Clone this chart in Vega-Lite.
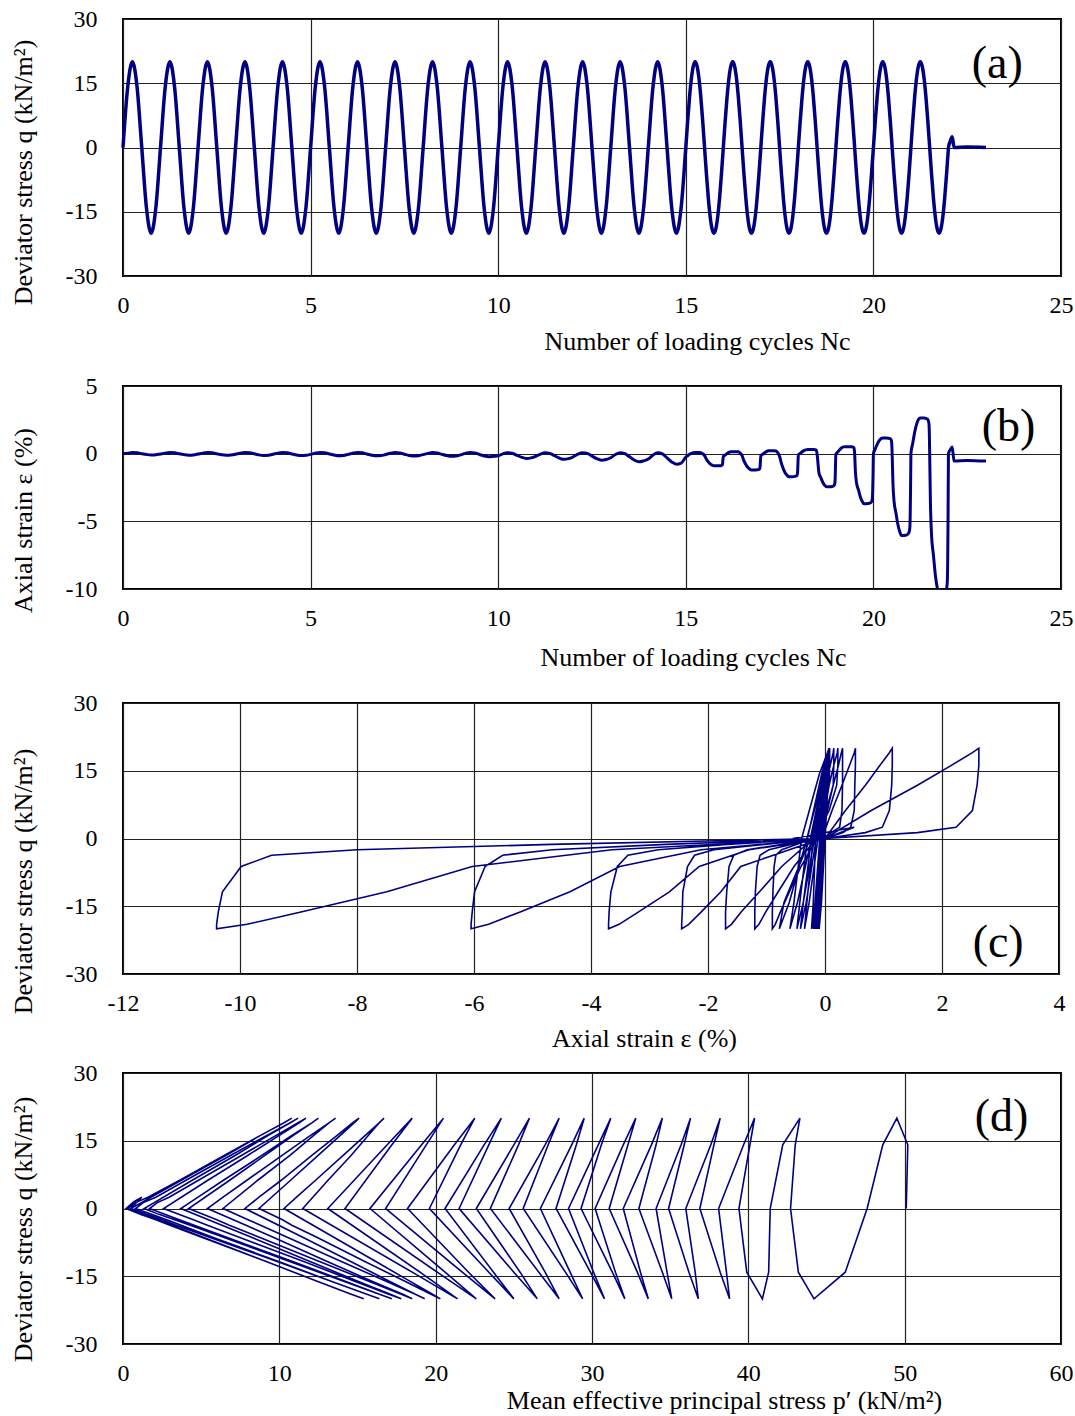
{
"$schema": "https://vega.github.io/schema/vega-lite/v6.json",
"background": "white",
"padding": {"left": 8, "top": 6, "right": 2, "bottom": 2},
"config": {
  "font": "Liberation Serif",
  "view": {"stroke": "black", "strokeWidth": 2},
  "axis": {"grid": true, "gridColor": "#222222", "gridWidth": 1.2, "gridOpacity": 1, "domain": false, "ticks": false,
    "labelFont": "Liberation Serif", "labelFontSize": 24, "labelColor": "black", "labelExpr": "'' + datum.value",
    "titleFont": "Liberation Serif", "titleFontSize": 26, "titleFontWeight": "normal", "titleColor": "black"},
  "axisX": {"labelPadding": 17, "labelFlush": false, "titleBaseline": "alphabetic", "titleAlign": "center"},
  "axisY": {"labelPadding": 26, "labelFlush": false, "titleBaseline": "middle", "titleAlign": "center"}
},
"datasets": {"d": [
{"t":0,"q":0,"e":0,"p":50.1},{"t":0.125,"q":14.1,"e":0.04,"p":50.2},{"t":0.25,"q":20,"e":0.08,"p":49.5},{"t":0.375,"q":14.1,"e":0.06,"p":48.6},{"t":0.5,"q":0,"e":0,"p":47.6},{"t":0.625,"q":-14.1,"e":-0.06,"p":46.2},{"t":0.75,"q":-20,"e":-0.1,"p":44.2},{"t":0.875,"q":-14.1,"e":-0.08,"p":43.2},
{"t":1,"q":0,"e":-0.02,"p":42.7},{"t":1.125,"q":14.1,"e":0.04,"p":43},{"t":1.25,"q":20,"e":0.08,"p":43.3},{"t":1.375,"q":14.1,"e":0.06,"p":42.2},{"t":1.5,"q":0,"e":-0.01,"p":41.4},{"t":1.625,"q":-14.1,"e":-0.07,"p":41.3},{"t":1.75,"q":-20,"e":-0.11,"p":40.9},{"t":1.875,"q":-14.1,"e":-0.09,"p":39.9},
{"t":2,"q":0,"e":-0.03,"p":39.4},{"t":2.125,"q":14.1,"e":0.04,"p":40.1},{"t":2.25,"q":20,"e":0.08,"p":40.4},{"t":2.375,"q":14.1,"e":0.06,"p":39.7},{"t":2.5,"q":0,"e":-0.01,"p":38.1},{"t":2.625,"q":-14.1,"e":-0.08,"p":38.6},{"t":2.75,"q":-20,"e":-0.12,"p":38.8},{"t":2.875,"q":-14.1,"e":-0.1,"p":38.2},
{"t":3,"q":0,"e":-0.04,"p":36.9},{"t":3.125,"q":14.1,"e":0.04,"p":37.8},{"t":3.25,"q":20,"e":0.08,"p":38.2},{"t":3.375,"q":14.1,"e":0.06,"p":37.6},{"t":3.5,"q":0,"e":-0.01,"p":36},{"t":3.625,"q":-14.1,"e":-0.09,"p":36.6},{"t":3.75,"q":-20,"e":-0.13,"p":36.8},{"t":3.875,"q":-14.1,"e":-0.11,"p":36.2},
{"t":4,"q":0,"e":-0.04,"p":34.9},{"t":4.125,"q":14.1,"e":0.04,"p":35.9},{"t":4.25,"q":20,"e":0.08,"p":36.3},{"t":4.375,"q":14.1,"e":0.06,"p":35.7},{"t":4.5,"q":0,"e":-0.02,"p":34.1},{"t":4.625,"q":-14.1,"e":-0.1,"p":34.8},{"t":4.75,"q":-20,"e":-0.14,"p":35.1},{"t":4.875,"q":-14.1,"e":-0.12,"p":34.5},
{"t":5,"q":0,"e":-0.05,"p":33},{"t":5.125,"q":14.1,"e":0.03,"p":34.1},{"t":5.25,"q":20,"e":0.08,"p":34.5},{"t":5.375,"q":14.1,"e":0.06,"p":33.8},{"t":5.5,"q":0,"e":-0.02,"p":32},{"t":5.625,"q":-14.1,"e":-0.1,"p":33.1},{"t":5.75,"q":-20,"e":-0.15,"p":33.6},{"t":5.875,"q":-14.1,"e":-0.13,"p":32.9},
{"t":6,"q":0,"e":-0.05,"p":31.1},{"t":6.125,"q":14.1,"e":0.03,"p":32.3},{"t":6.25,"q":20,"e":0.08,"p":32.8},{"t":6.375,"q":14.1,"e":0.06,"p":32},{"t":6.5,"q":0,"e":-0.03,"p":30.2},{"t":6.625,"q":-14.1,"e":-0.11,"p":31.5},{"t":6.75,"q":-20,"e":-0.16,"p":32.1},{"t":6.875,"q":-14.1,"e":-0.14,"p":31.3},
{"t":7,"q":0,"e":-0.06,"p":29.3},{"t":7.125,"q":14.1,"e":0.03,"p":30.6},{"t":7.25,"q":20,"e":0.08,"p":31.2},{"t":7.375,"q":14.1,"e":0.05,"p":30.4},{"t":7.5,"q":0,"e":-0.04,"p":28.5},{"t":7.625,"q":-14.1,"e":-0.13,"p":30.1},{"t":7.75,"q":-20,"e":-0.18,"p":30.8},{"t":7.875,"q":-14.1,"e":-0.15,"p":29.9},
{"t":8,"q":0,"e":-0.07,"p":27.7},{"t":8.125,"q":14.1,"e":0.02,"p":29},{"t":8.25,"q":20,"e":0.08,"p":29.5},{"t":8.375,"q":14.1,"e":0.05,"p":28.7},{"t":8.5,"q":0,"e":-0.05,"p":26.7},{"t":8.625,"q":-14.1,"e":-0.14,"p":28.6},{"t":8.75,"q":-20,"e":-0.2,"p":29.4},{"t":8.875,"q":-14.1,"e":-0.17,"p":28.3},
{"t":9,"q":0,"e":-0.09,"p":25.6},{"t":9.125,"q":14.1,"e":0.02,"p":27.2},{"t":9.25,"q":20,"e":0.08,"p":27.9},{"t":9.375,"q":14.1,"e":0.05,"p":27},{"t":9.5,"q":0,"e":-0.06,"p":24.7},{"t":9.625,"q":-14.1,"e":-0.17,"p":27},{"t":9.75,"q":-20,"e":-0.23,"p":27.9},{"t":9.875,"q":-14.1,"e":-0.2,"p":26.6},
{"t":10,"q":0,"e":-0.16,"p":23.5},{"t":10.125,"q":14.1,"e":-0.01,"p":25.3},{"t":10.25,"q":20,"e":0.07,"p":26},{"t":10.375,"q":14.1,"e":0.03,"p":25},{"t":10.5,"q":0,"e":-0.12,"p":22.6},{"t":10.625,"q":-14.1,"e":-0.27,"p":25.4},{"t":10.75,"q":-20,"e":-0.35,"p":26.5},{"t":10.875,"q":-14.1,"e":-0.31,"p":25},
{"t":11,"q":0,"e":-0.2,"p":21.5},{"t":11.125,"q":14.1,"e":-0.03,"p":23.4},{"t":11.25,"q":20,"e":0.07,"p":24.2},{"t":11.375,"q":14.1,"e":0.02,"p":23.1},{"t":11.5,"q":0,"e":-0.15,"p":20.6},{"t":11.625,"q":-14.1,"e":-0.32,"p":23.7},{"t":11.75,"q":-20,"e":-0.42,"p":25},{"t":11.875,"q":-14.1,"e":-0.37,"p":23.4},
{"t":12,"q":0,"e":-0.23,"p":19.6},{"t":12.125,"q":14.1,"e":-0.04,"p":21.6},{"t":12.25,"q":20,"e":0.07,"p":22.5},{"t":12.375,"q":14.1,"e":0.02,"p":21.2},{"t":12.5,"q":0,"e":-0.18,"p":18.2},{"t":12.625,"q":-14.1,"e":-0.37,"p":22.1},{"t":12.75,"q":-20,"e":-0.48,"p":23.8},{"t":12.875,"q":-14.1,"e":-0.43,"p":21.7},
{"t":13,"q":0,"e":-0.3,"p":16.8},{"t":13.125,"q":14.1,"e":-0.06,"p":19.4},{"t":13.25,"q":20,"e":0.07,"p":20.5},{"t":13.375,"q":14.1,"e":0,"p":19.1},{"t":13.5,"q":0,"e":-0.23,"p":15.8},{"t":13.625,"q":-14.1,"e":-0.47,"p":20.6},{"t":13.75,"q":-20,"e":-0.6,"p":22.6},{"t":13.875,"q":-14.1,"e":-0.53,"p":20.1},
{"t":14,"q":0,"e":-0.4,"p":14.2},{"t":14.125,"q":14.1,"e":-0.1,"p":17.2},{"t":14.25,"q":20,"e":0.07,"p":18.5},{"t":14.375,"q":14.1,"e":-0.02,"p":16.9},{"t":14.5,"q":0,"e":-0.31,"p":13.1},{"t":14.625,"q":-14.1,"e":-0.61,"p":19},{"t":14.75,"q":-20,"e":-0.78,"p":21.4},{"t":14.875,"q":-14.1,"e":-0.7,"p":18.5},
{"t":15,"q":0,"e":-0.25,"p":11.5},{"t":15.05,"q":6.2,"e":-0.15,"p":13.1},{"t":15.1,"q":11.8,"e":-0.05,"p":14.6},{"t":15.15,"q":16.2,"e":0.02,"p":15.7},{"t":15.2,"q":19,"e":0.07,"p":16.4},{"t":15.25,"q":20,"e":0.08,"p":16.7},{"t":15.3,"q":19,"e":0.08,"p":16.4},{"t":15.35,"q":16.2,"e":0.08,"p":15.5},{"t":15.4,"q":11.8,"e":0.07,"p":14.1},{"t":15.45,"q":6.2,"e":0,"p":12.3},{"t":15.48,"q":2.5,"e":-0.07,"p":11.1},{"t":15.5,"q":0,"e":-0.14,"p":10.3},{"t":15.55,"q":-6.2,"e":-0.41,"p":13.4},{"t":15.6,"q":-11.8,"e":-0.61,"p":16.2},{"t":15.65,"q":-16.2,"e":-0.76,"p":18.4},{"t":15.7,"q":-19,"e":-0.85,"p":19.8},{"t":15.75,"q":-20,"e":-0.9,"p":20.3},{"t":15.8,"q":-19,"e":-0.9,"p":19.7},{"t":15.85,"q":-16.2,"e":-0.9,"p":18.1},{"t":15.9,"q":-11.8,"e":-0.89,"p":15.5},{"t":15.95,"q":-6.2,"e":-0.87,"p":12.3},{"t":15.97,"q":-3.7,"e":-0.84,"p":10.8},{"t":15.98,"q":-2.5,"e":-0.74,"p":10.2},
{"t":16,"q":0,"e":-0.2,"p":8.7},{"t":16.05,"q":6.2,"e":-0.1,"p":10.7},{"t":16.1,"q":11.8,"e":0.01,"p":12.5},{"t":16.15,"q":16.2,"e":0.09,"p":13.9},{"t":16.2,"q":19,"e":0.14,"p":14.8},{"t":16.25,"q":20,"e":0.15,"p":15.1},{"t":16.3,"q":19,"e":0.15,"p":14.7},{"t":16.35,"q":16.2,"e":0.15,"p":13.7},{"t":16.4,"q":11.8,"e":0.14,"p":12.1},{"t":16.45,"q":6.2,"e":0.04,"p":10.1},{"t":16.48,"q":2.5,"e":-0.05,"p":8.7},{"t":16.5,"q":0,"e":-0.15,"p":7.8},{"t":16.55,"q":-6.2,"e":-0.53,"p":11.4},{"t":16.6,"q":-11.8,"e":-0.8,"p":14.6},{"t":16.65,"q":-16.2,"e":-1.01,"p":17.1},{"t":16.7,"q":-19,"e":-1.13,"p":18.7},{"t":16.75,"q":-20,"e":-1.2,"p":19.3},{"t":16.8,"q":-19,"e":-1.2,"p":18.7},{"t":16.85,"q":-16.2,"e":-1.2,"p":16.9},{"t":16.9,"q":-11.8,"e":-1.19,"p":14},{"t":16.95,"q":-6.2,"e":-1.16,"p":10.4},{"t":16.97,"q":-3.7,"e":-1.11,"p":8.8},{"t":16.98,"q":-2.5,"e":-0.96,"p":8},
{"t":17,"q":0,"e":-0.15,"p":6.4},{"t":17.05,"q":6.2,"e":-0.04,"p":8.6},{"t":17.1,"q":11.8,"e":0.07,"p":10.7},{"t":17.15,"q":16.2,"e":0.15,"p":12.2},{"t":17.2,"q":19,"e":0.21,"p":13.2},{"t":17.25,"q":20,"e":0.22,"p":13.6},{"t":17.3,"q":19,"e":0.22,"p":13.2},{"t":17.35,"q":16.2,"e":0.22,"p":12},{"t":17.4,"q":11.8,"e":0.2,"p":10.2},{"t":17.45,"q":6.2,"e":0.07,"p":7.9},{"t":17.48,"q":2.5,"e":-0.07,"p":6.4},{"t":17.5,"q":0,"e":-0.2,"p":5.4},{"t":17.55,"q":-6.2,"e":-0.74,"p":9.5},{"t":17.6,"q":-11.8,"e":-1.12,"p":13.1},{"t":17.65,"q":-16.2,"e":-1.43,"p":16},{"t":17.7,"q":-19,"e":-1.6,"p":17.9},{"t":17.75,"q":-20,"e":-1.7,"p":18.5},{"t":17.8,"q":-19,"e":-1.7,"p":17.8},{"t":17.85,"q":-16.2,"e":-1.7,"p":15.8},{"t":17.9,"q":-11.8,"e":-1.68,"p":12.6},{"t":17.95,"q":-6.2,"e":-1.64,"p":8.6},{"t":17.97,"q":-3.7,"e":-1.56,"p":6.8},{"t":17.98,"q":-2.5,"e":-1.33,"p":6},
{"t":18,"q":0,"e":-0.1,"p":4.2},{"t":18.05,"q":6.2,"e":0.02,"p":6.8},{"t":18.1,"q":11.8,"e":0.14,"p":9.1},{"t":18.15,"q":16.2,"e":0.23,"p":10.9},{"t":18.2,"q":19,"e":0.28,"p":12.1},{"t":18.25,"q":20,"e":0.3,"p":12.5},{"t":18.3,"q":19,"e":0.3,"p":12.1},{"t":18.35,"q":16.2,"e":0.3,"p":10.8},{"t":18.4,"q":11.8,"e":0.3,"p":8.9},{"t":18.45,"q":6.2,"e":0.29,"p":6.4},{"t":18.48,"q":2.5,"e":0.25,"p":4.8},{"t":18.5,"q":0,"e":-0.05,"p":3.7},{"t":18.55,"q":-6.2,"e":-1.44,"p":8.1},{"t":18.6,"q":-11.8,"e":-1.78,"p":12},{"t":18.65,"q":-16.2,"e":-2.11,"p":15.1},{"t":18.7,"q":-19,"e":-2.33,"p":17.1},{"t":18.75,"q":-20,"e":-2.45,"p":17.8},{"t":18.8,"q":-19,"e":-2.45,"p":17},{"t":18.85,"q":-16.2,"e":-2.44,"p":14.9},{"t":18.9,"q":-11.8,"e":-2.43,"p":11.6},{"t":18.95,"q":-6.2,"e":-2.35,"p":7.3},{"t":18.97,"q":-3.7,"e":-2.23,"p":5.4},{"t":18.98,"q":-2.5,"e":-1.9,"p":4.5},
{"t":19,"q":0,"e":-0.05,"p":2.6},{"t":19.05,"q":6.2,"e":0.12,"p":5.4},{"t":19.1,"q":11.8,"e":0.29,"p":8},{"t":19.15,"q":16.2,"e":0.42,"p":10},{"t":19.2,"q":19,"e":0.5,"p":11.3},{"t":19.25,"q":20,"e":0.52,"p":11.7},{"t":19.3,"q":19,"e":0.52,"p":11.2},{"t":19.35,"q":16.2,"e":0.52,"p":9.8},{"t":19.4,"q":11.8,"e":0.51,"p":7.6},{"t":19.45,"q":6.2,"e":0.5,"p":4.8},{"t":19.48,"q":2.5,"e":0.44,"p":2.95},{"t":19.49,"q":1.3,"e":0.31,"p":2.2},{"t":19.5,"q":0,"e":0,"p":1.7},{"t":19.52,"q":-2.5,"e":-1.3,"p":3.6},{"t":19.55,"q":-6.2,"e":-2.15,"p":6.5},{"t":19.6,"q":-11.8,"e":-2.66,"p":10.9},{"t":19.65,"q":-16.2,"e":-3.18,"p":14.3},{"t":19.7,"q":-19,"e":-3.52,"p":16.4},{"t":19.75,"q":-20,"e":-3.7,"p":17.2},{"t":19.8,"q":-19,"e":-3.7,"p":16.4},{"t":19.85,"q":-16.2,"e":-3.69,"p":14.2},{"t":19.9,"q":-11.8,"e":-3.66,"p":10.7},{"t":19.95,"q":-6.2,"e":-3.55,"p":6.3},{"t":19.97,"q":-3.7,"e":-3.37,"p":4.3},{"t":19.98,"q":-2.5,"e":-2.85,"p":3.3},{"t":19.99,"q":-1.3,"e":-1.67,"p":2.3},
{"t":20,"q":0,"e":0,"p":1.35},{"t":20.05,"q":6.2,"e":0.35,"p":4.4},{"t":20.1,"q":11.8,"e":0.69,"p":7.2},{"t":20.15,"q":16.2,"e":0.94,"p":9.3},{"t":20.2,"q":19,"e":1.1,"p":10.7},{"t":20.25,"q":20,"e":1.15,"p":11.2},{"t":20.3,"q":19,"e":1.15,"p":10.7},{"t":20.35,"q":16.2,"e":1.15,"p":9.2},{"t":20.4,"q":11.8,"e":1.14,"p":6.9},{"t":20.45,"q":6.2,"e":1.1,"p":4},{"t":20.48,"q":2.5,"e":0.98,"p":2.1},{"t":20.49,"q":1.3,"e":0.69,"p":1.3},{"t":20.5,"q":0,"e":0,"p":0.8},{"t":20.52,"q":-2.5,"e":-2.12,"p":2.8},{"t":20.55,"q":-6.2,"e":-3.51,"p":5.6},{"t":20.6,"q":-11.8,"e":-4.36,"p":10},{"t":20.65,"q":-16.2,"e":-5.2,"p":13.4},{"t":20.7,"q":-19,"e":-5.75,"p":15.6},{"t":20.75,"q":-20,"e":-6.05,"p":16.4},{"t":20.8,"q":-19,"e":-6.05,"p":15.6},{"t":20.85,"q":-16.2,"e":-6.03,"p":13.4},{"t":20.9,"q":-11.8,"e":-5.99,"p":9.9},{"t":20.95,"q":-6.2,"e":-5.81,"p":5.4},{"t":20.97,"q":-3.7,"e":-5.51,"p":3.4},{"t":20.98,"q":-2.5,"e":-4.66,"p":2.5},{"t":20.99,"q":-1.3,"e":-2.72,"p":1.5},
{"t":21,"q":0,"e":0,"p":0.5},{"t":21.05,"q":6.2,"e":0.79,"p":3.7},{"t":21.1,"q":11.8,"e":1.58,"p":6.6},{"t":21.15,"q":16.2,"e":2.16,"p":8.8},{"t":21.2,"q":19,"e":2.52,"p":10.3},{"t":21.25,"q":20,"e":2.63,"p":10.8},{"t":21.3,"q":19,"e":2.63,"p":10.3},{"t":21.35,"q":16.2,"e":2.63,"p":8.8},{"t":21.4,"q":11.8,"e":2.6,"p":6.5},{"t":21.45,"q":6.2,"e":2.52,"p":3.6},{"t":21.48,"q":2.5,"e":2.24,"p":1.6},{"t":21.49,"q":1.3,"e":1.58,"p":0.8},{"t":21.5,"q":0,"e":0,"p":0.3},{"t":21.52,"q":-2.5,"e":-3.64,"p":2.2},{"t":21.55,"q":-6.2,"e":-6.03,"p":5},{"t":21.6,"q":-11.8,"e":-7.49,"p":9.2},{"t":21.65,"q":-16.2,"e":-8.94,"p":12.5},{"t":21.7,"q":-19,"e":-9.88,"p":14.6},{"t":21.75,"q":-20,"e":-10.4,"p":15.4},{"t":21.8,"q":-19,"e":-10.4,"p":14.6},{"t":21.85,"q":-16.2,"e":-10.37,"p":12.5},{"t":21.9,"q":-11.8,"e":-10.3,"p":9.2},{"t":21.95,"q":-6.2,"e":-9.98,"p":4.9},{"t":21.97,"q":-3.7,"e":-9.46,"p":3},{"t":21.98,"q":-2.5,"e":-8,"p":2.1},{"t":21.99,"q":-1.3,"e":-4.68,"p":1.1},
{"t":22,"q":0,"e":0,"p":0.2},{"t":22.05,"q":1.5,"e":0.3,"p":0.7},{"t":22.1,"q":2.5,"e":0.5,"p":1.2},{"t":22.15,"q":0,"e":-0.55,"p":0.5},{"t":22.5,"q":0.1,"e":-0.5,"p":0.5},{"t":23,"q":0,"e":-0.55,"p":0.5}
]},
"spacing": 19,
"vconcat": [
 {"spacing": 18, "vconcat": [
  {"width": 938, "height": 257, "data": {"name": "d"},
   "layer": [
    {"mark": {"type": "line", "color": "#000080", "strokeWidth": 3.5, "interpolate": "monotone"},
     "encoding": {
      "x": {"field": "t", "type": "quantitative", "scale": {"domain": [0, 25], "nice": false},
        "axis": {"values": [0, 5, 10, 15, 20, 25], "title": "Number of loading cycles  Nc", "titleX": 574, "titleY": 73}},
      "y": {"field": "q", "type": "quantitative", "scale": {"domain": [-30, 30], "nice": false},
        "axis": {"values": [-30, -15, 0, 15, 30], "title": "Deviator stress  q (kN/m²)", "titleX": -100, "titleY": 153}}}},
    {"data": {"values": [{"x": 23.3, "y": 19.5, "s": "(a)"}]},
     "mark": {"type": "text", "fontSize": 46, "font": "Liberation Serif", "color": "black"},
     "encoding": {"x": {"field": "x", "type": "quantitative"}, "y": {"field": "y", "type": "quantitative"}, "text": {"field": "s"}}}
   ]},
  {"width": 938, "height": 203, "data": {"name": "d"},
   "layer": [
    {"mark": {"type": "line", "color": "#000080", "strokeWidth": 3, "interpolate": "monotone", "clip": true},
     "encoding": {
      "x": {"field": "t", "type": "quantitative", "scale": {"domain": [0, 25], "nice": false},
        "axis": {"values": [0, 5, 10, 15, 20, 25], "title": "Number of loading cycles  Nc", "titleX": 570, "titleY": 76}},
      "y": {"field": "e", "type": "quantitative", "scale": {"domain": [-10, 5], "nice": false},
        "axis": {"values": [-10, -5, 0, 5], "title": "Axial strain  ε (%)", "titleX": -100, "titleY": 134}}}},
    {"data": {"values": [{"x": 23.6, "y": 2.0, "s": "(b)"}]},
     "mark": {"type": "text", "fontSize": 46, "font": "Liberation Serif", "color": "black"},
     "encoding": {"x": {"field": "x", "type": "quantitative"}, "y": {"field": "y", "type": "quantitative"}, "text": {"field": "s"}}}
   ]}
 ]},
 {"spacing": 8, "vconcat": [
  {"width": 936, "height": 271, "data": {"name": "d"},
   "layer": [
    {"mark": {"type": "line", "color": "#000080", "strokeWidth": 1.6},
     "encoding": {
      "x": {"field": "e", "type": "quantitative", "scale": {"domain": [-12, 4], "nice": false},
        "axis": {"values": [-12, -10, -8, -6, -4, -2, 0, 2, 4], "title": "Axial strain  ε (%)", "titleX": 521, "titleY": 72}},
      "y": {"field": "q", "type": "quantitative", "scale": {"domain": [-30, 30], "nice": false},
        "axis": {"values": [-30, -15, 0, 15, 30], "title": "Deviator stress  q (kN/m²)", "titleX": -100, "titleY": 178}},
      "order": {"field": "t", "type": "quantitative"}}},
    {"data": {"values": [{"x": 2.96, "y": -23.1, "s": "(c)"}]},
     "mark": {"type": "text", "fontSize": 46, "font": "Liberation Serif", "color": "black"},
     "encoding": {"x": {"field": "x", "type": "quantitative"}, "y": {"field": "y", "type": "quantitative"}, "text": {"field": "s"}}}
   ]},
  {"width": 938, "height": 271, "data": {"name": "d"},
   "layer": [
    {"mark": {"type": "line", "color": "#000080", "strokeWidth": 1.6},
     "encoding": {
      "x": {"field": "p", "type": "quantitative", "scale": {"domain": [0, 60], "nice": false},
        "axis": {"values": [0, 10, 20, 30, 40, 50, 60], "title": "Mean effective principal stress  p′ (kN/m²)", "titleX": 601, "titleY": 64}},
      "y": {"field": "q", "type": "quantitative", "scale": {"domain": [-30, 30], "nice": false},
        "axis": {"values": [-30, -15, 0, 15, 30], "title": "Deviator stress  q (kN/m²)", "titleX": -100, "titleY": 156}},
      "order": {"field": "t", "type": "quantitative"}}},
    {"data": {"values": [{"x": 56.2, "y": 20.3, "s": "(d)"}]},
     "mark": {"type": "text", "fontSize": 46, "font": "Liberation Serif", "color": "black"},
     "encoding": {"x": {"field": "x", "type": "quantitative"}, "y": {"field": "y", "type": "quantitative"}, "text": {"field": "s"}}}
   ]}
 ]}
]
}
